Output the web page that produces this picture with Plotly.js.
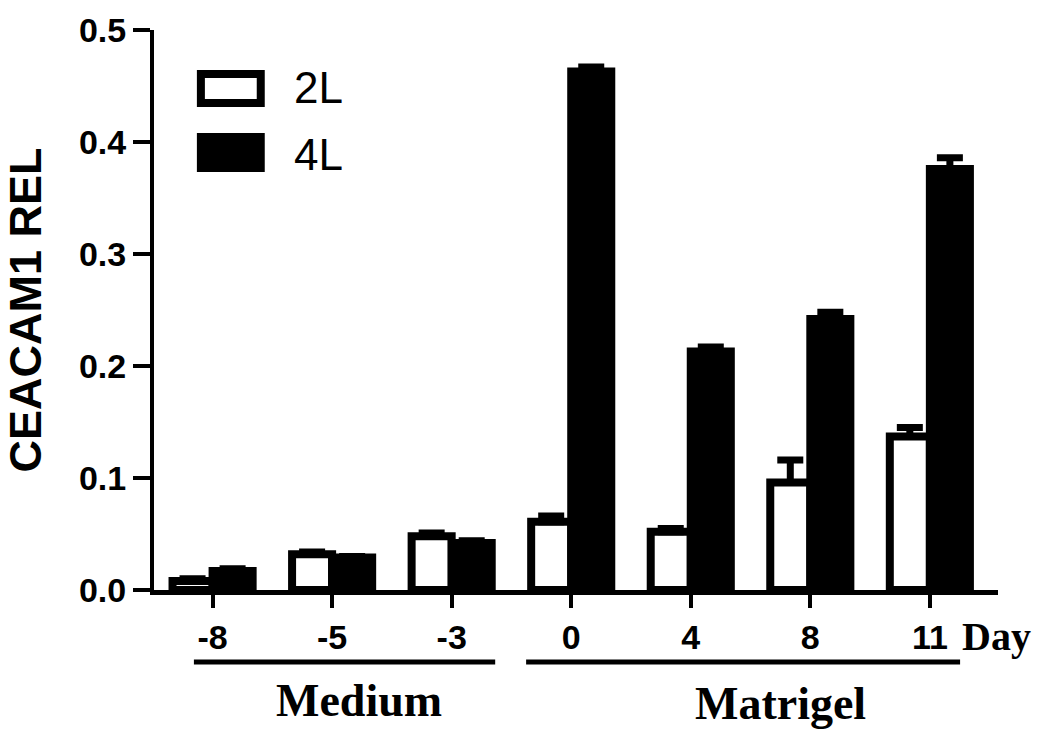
<!DOCTYPE html>
<html>
<head>
<meta charset="utf-8">
<script src="https://cdn.plot.ly/plotly-3.0.1.min.js"></script>
<style>
  html, body { margin: 0; padding: 0; background: #ffffff; }
  #chart { width: 1050px; height: 736px; }
</style>
</head>
<body>
<div id="chart"></div>
<script>
// ---- data ----
const categories = ['-8', '-5', '-3', '0', '4', '8', '11'];
const seriesNames = ['2L', '4L'];
const values2L = [0.008, 0.032, 0.048, 0.061, 0.052, 0.096, 0.137];
const errors2L = [0.002, 0.002, 0.003, 0.005, 0.003, 0.020, 0.008];
const values4L = [0.017, 0.029, 0.042, 0.463, 0.213, 0.242, 0.376];
const errors4L = [0.002, 0.001, 0.002, 0.004, 0.004, 0.006, 0.010];
const yTickValues = [0, 0.1, 0.2, 0.3, 0.4, 0.5];
const yTitle = 'CEACAM1 REL';
const xUnitLabel = 'Day';
const groupLabels = ['Medium', 'Matrigel'];

const SANS = 'Liberation Sans, Arial, Helvetica, sans-serif';
const SERIF = 'Liberation Serif, Times New Roman, serif';

function zeros(n) { return new Array(n).fill(0); }

const traces = [
  {
    type: 'bar', name: seriesNames[0], x: categories, y: values2L,
    marker: { color: '#ffffff', line: { color: '#000000', width: 8 } },
    error_y: { type: 'data', symmetric: false, array: errors2L, arrayminus: zeros(errors2L.length),
               color: '#000000', thickness: 7, width: 13 },
    showlegend: false, hoverinfo: 'x+y'
  },
  {
    type: 'bar', name: seriesNames[1], x: categories, y: values4L,
    marker: { color: '#000000', line: { color: '#000000', width: 8 } },
    error_y: { type: 'data', symmetric: false, array: errors4L, arrayminus: zeros(errors4L.length),
               color: '#000000', thickness: 7, width: 13 },
    showlegend: false, hoverinfo: 'x+y'
  }
];

// pixel -> paper helpers for decorations (plot area: x 152..998, y 30..590)
const PL = 152, PR = 998, PT = 30, PB = 590;
const px = v => (v - PL) / (PR - PL);
const py = v => (PB - v) / (PB - PT);

const layout = {
  width: 1050, height: 736,
  margin: { l: 154, r: 52, t: 30, b: 146 },
  paper_bgcolor: '#ffffff', plot_bgcolor: '#ffffff',
  barmode: 'group', bargap: 0.33, bargroupgap: 0,
  showlegend: false,
  xaxis: {
    type: 'category',
    range: [-0.49, 6.57],
    showline: true, linecolor: '#000000', linewidth: 5,
    ticks: 'outside', ticklen: 13, tickwidth: 4, tickcolor: '#000000',
    showgrid: false, zeroline: false,
    tickfont: { family: SANS, size: 34, color: '#000000', weight: 'bold' },
    fixedrange: true
  },
  yaxis: {
    range: [0, 0.5],
    tickvals: yTickValues,
    tickformat: '.1f',
    showline: true, linecolor: '#000000', linewidth: 4,
    ticks: 'outside', ticklen: 17, tickwidth: 4, tickcolor: '#000000',
    showgrid: false, zeroline: false,
    tickfont: { family: SANS, size: 34, color: '#000000', weight: 'bold' },
    title: { text: yTitle, standoff: 26,
             font: { family: SANS, size: 45, color: '#000000', weight: 'bold' } },
    fixedrange: true
  },
  shapes: [
    // group underlines
    { type: 'line', xref: 'paper', yref: 'paper', x0: px(192), x1: px(494), y0: py(662), y1: py(662),
      line: { color: '#000000', width: 5 } },
    { type: 'line', xref: 'paper', yref: 'paper', x0: px(525), x1: px(960), y0: py(662), y1: py(662),
      line: { color: '#000000', width: 5 } },
    // legend swatches
    { type: 'rect', xref: 'paper', yref: 'paper', x0: px(199), x1: px(259), y0: py(103), y1: py(74),
      fillcolor: '#ffffff', line: { color: '#000000', width: 8 } },
    { type: 'rect', xref: 'paper', yref: 'paper', x0: px(199), x1: px(259), y0: py(168), y1: py(137),
      fillcolor: '#000000', line: { color: '#000000', width: 8 } }
  ],
  annotations: [
    { text: seriesNames[0], xref: 'paper', yref: 'paper', x: px(290), y: py(88),
      xanchor: 'left', yanchor: 'middle', showarrow: false,
      font: { family: SANS, size: 44, color: '#000000' } },
    { text: seriesNames[1], xref: 'paper', yref: 'paper', x: px(290), y: py(154),
      xanchor: 'left', yanchor: 'middle', showarrow: false,
      font: { family: SANS, size: 44, color: '#000000' } },
    { text: xUnitLabel, xref: 'paper', yref: 'paper', x: px(960), y: py(636),
      xanchor: 'left', yanchor: 'middle', showarrow: false,
      font: { family: SERIF, size: 40, color: '#000000', weight: 'bold' } },
    { text: groupLabels[0], xref: 'paper', yref: 'paper', x: px(357), y: py(700),
      xanchor: 'center', yanchor: 'middle', showarrow: false,
      font: { family: SERIF, size: 46, color: '#000000', weight: 'bold' } },
    { text: groupLabels[1], xref: 'paper', yref: 'paper', x: px(780), y: py(703),
      xanchor: 'center', yanchor: 'middle', showarrow: false,
      font: { family: SERIF, size: 46, color: '#000000', weight: 'bold' } }
  ]
};

Plotly.newPlot('chart', traces, layout, { displayModeBar: false, staticPlot: true });
</script>
</body>
</html>
